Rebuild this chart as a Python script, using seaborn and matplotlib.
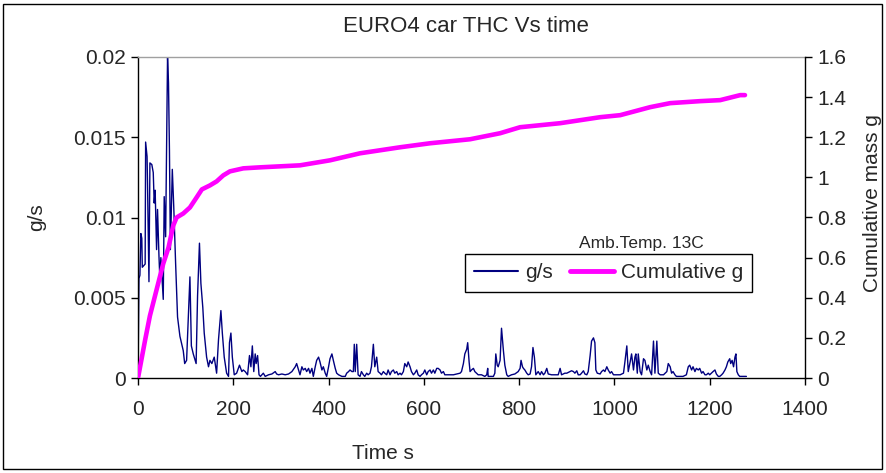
import matplotlib
matplotlib.use("Agg")
import matplotlib.pyplot as plt
import seaborn as sns
import pandas as pd
from matplotlib.ticker import FuncFormatter, MultipleLocator
from matplotlib.lines import Line2D
from matplotlib.patches import Rectangle

# ---------------- data ----------------
t_gs = [0, 2, 4, 6, 8, 9, 12, 15, 16, 19, 20, 23, 25, 29, 32, 34, 36, 39, 41, 44,
        46, 48, 51, 53, 55, 58, 62, 64, 66, 68, 72, 75, 79, 83, 88, 95, 98, 102, 105, 109,
        112, 116, 122, 125, 129, 132, 136, 139, 144, 148, 151, 155, 160, 165, 169, 174, 177, 181, 186, 190,
        192, 195, 198, 202, 207, 213, 218, 221,
        225, 230, 234, 237, 240, 243, 246, 248, 251, 254, 257, 263, 267, 274, 281, 288, 291, 295,
        302, 309, 316, 323, 330, 333, 337, 340, 344, 347, 351, 354, 358, 361, 365, 368, 372, 375,
        379, 382, 386, 389, 393, 396, 400, 403, 407, 410, 414, 417, 421, 428, 435, 438, 442, 445,
        449, 452, 454, 456, 459, 462, 466, 469, 473, 476, 480, 483, 487, 490, 494, 497,
        501, 504, 508, 511, 515, 518, 522, 525, 529, 532, 536, 539, 543, 546, 550, 553, 557, 560,
        564, 567, 571, 574, 578, 581, 585, 588, 592, 595, 599, 602, 606, 609, 613, 616, 620, 623,
        627, 630, 634, 637, 641, 644, 648, 655, 662, 669, 676, 679, 683, 686, 690, 692, 695, 697,
        700, 704, 707, 714, 721, 728, 732, 734, 735, 742, 746, 749, 751, 754, 756, 760, 763, 767,
        770, 774, 777, 784, 791, 798, 802, 804, 807, 809, 812, 816, 819, 823, 826, 829, 832, 835,
        840, 844, 847, 851, 854, 858, 861, 868, 875, 882, 886, 889, 896, 900, 907, 910, 914, 917,
        921, 924, 928, 931, 935, 938, 942, 945, 949, 952, 956, 959, 961, 964, 970, 973, 977, 980,
        984, 987, 991, 994, 998, 1005, 1012, 1019, 1022, 1026, 1029, 1033, 1036, 1040, 1043, 1045, 1048, 1050,
        1054, 1057, 1061, 1064, 1068, 1071, 1075, 1078, 1082, 1085, 1089, 1092, 1096, 1103, 1110, 1113, 1117, 1120,
        1123, 1127, 1130, 1137, 1144, 1151, 1155, 1158, 1162, 1165, 1169, 1172, 1176, 1179, 1183, 1186, 1190, 1193,
        1197, 1200, 1207, 1211, 1214, 1218, 1221, 1225, 1228, 1232, 1235, 1238, 1242, 1244, 1247, 1250, 1253, 1255,
        1257, 1260, 1263, 1270, 1277]

gs = [0.0, 0.0062, 0.0064, 0.0090, 0.0087, 0.0069, 0.0070, 0.0071, 0.0147, 0.0138, 0.0121, 0.0060, 0.0134, 0.0133, 0.0128, 0.0109, 0.0117, 0.0080, 0.0105, 0.0076,
      0.0061, 0.0075, 0.0059, 0.0049, 0.0113, 0.0088, 0.0200, 0.0184, 0.0142, 0.0080, 0.0130, 0.0107, 0.0071, 0.0038, 0.0026, 0.0017, 0.0009, 0.0011, 0.0033, 0.0063,
      0.0020, 0.0015, 0.0009, 0.0051, 0.0084, 0.0059, 0.0044, 0.0028, 0.0013, 0.0007, 0.0011, 0.0009, 0.0013, 0.0003, 0.0024, 0.0042, 0.0028, 0.0013, 0.0003, 0.0001,
      0.0022, 0.0028, 0.0013, 0.0002, 0.0003, 0.0008, 0.0004, 0.0005,
      0.0004, 0.0002, 0.0014, 0.0007, 0.0020, 0.0004, 0.0015, 0.0009, 0.0014, 0.0002, 0.0001, 0.0003, 0.0001, 0.0002, 0.00025, 0.0004, 0.00025, 0.0002,
      0.00025, 0.0002, 0.00025, 0.0004, 0.0007, 0.0009, 0.0005, 0.0002, 0.0007, 0.0005, 0.0006, 0.0004, 0.0006, 0.0003, 0.0006, 0.0001, 0.0007, 0.0011,
      0.0013, 0.0010, 0.0005, 0.0007, 0.0003, 0.0001, 0.0007, 0.0012, 0.0015, 0.0011, 0.0006, 0.0003, 0.0002, 0.0001, 0.0001, 0.0003, 0.0004, 0.0005,
      0.0004, 0.0004, 0.0021, 0.0004, 0.0021, 0.0002, 0.0001, 0.0004, 0.0002, 0.0001, 0.0003, 0.0002, 0.0003, 0.0007, 0.0021, 0.0007,
      0.0013, 0.0004, 0.0003, 0.0002, 0.0004, 0.0003, 0.0002, 0.0005, 0.0002, 0.0004, 0.0005, 0.0003, 0.0004, 0.0002, 0.0003, 0.0002, 0.0004, 0.0009,
      0.0007, 0.0010, 0.0007, 0.0004, 0.0002, 0.0003, 0.0005, 0.0002, 0.0001, 0.0002, 0.0003, 0.0005, 0.0002, 0.0004, 0.0005, 0.0003, 0.0005, 0.0003,
      0.0006, 0.0006, 0.0005, 0.0003, 0.0004, 0.0002, 0.0002, 0.0002, 0.0002, 0.00025, 0.0003, 0.0004, 0.0009, 0.0015, 0.0018, 0.0022, 0.0010, 0.0004,
      0.0005, 0.0006, 0.0004, 0.0002, 0.0002, 0.0001, 0.0002, 0.0006, 0.0001, 0.0001, 0.0001, 0.0003, 0.0015, 0.0008, 0.0007, 0.0011, 0.0031, 0.0017,
      0.0008, 0.0002, 0.0001, 0.0002, 0.00025, 0.0004, 0.0006, 0.0011, 0.0007, 0.0006, 0.0005, 0.0003, 0.0002, 0.00025, 0.0007, 0.0019, 0.0013, 0.0002,
      0.0004, 0.0002, 0.0004, 0.0002, 0.0003, 0.0006, 0.00025, 0.0002, 0.0002, 0.0002, 0.0006, 0.0002, 0.0003, 0.0003, 0.0004, 0.00045, 0.0004, 0.0003,
      0.00045, 0.0002, 0.0002, 0.0003, 0.00045, 0.00025, 0.0002, 0.0004, 0.0014, 0.0023, 0.0025, 0.0022, 0.0005, 0.0003, 0.00025, 0.0004, 0.0005, 0.0004,
      0.0007, 0.0005, 0.0003, 0.0004, 0.0002, 0.0002, 0.0002, 0.0003, 0.0010, 0.0020, 0.0004, 0.0010, 0.0015, 0.0005, 0.0013, 0.0015, 0.0003, 0.0015,
      0.0004, 0.0002, 0.0012, 0.0011, 0.0005, 0.0008, 0.0004, 0.0002, 0.0023, 0.0003, 0.0023, 0.0003, 0.0002, 0.0002, 0.0004, 0.0009, 0.0007, 0.0003,
      0.0004, 0.0002, 0.0001, 0.0001, 0.0001, 0.0002, 0.0007, 0.0008, 0.0005, 0.0007, 0.0004, 0.0006, 0.0005, 0.0006, 0.0003, 0.0004, 0.0002, 0.0002,
      0.0003, 0.0002, 0.0004, 0.0005, 0.00025, 0.0001, 0.0001, 0.0002, 0.0003, 0.0005, 0.0007, 0.0010, 0.0012, 0.0009, 0.0011, 0.0007, 0.0013, 0.0015,
      0.0004, 0.0002, 0.0001, 0.0001, 0.0001]

t_cum = [0, 15, 25, 39, 53, 64, 74, 81, 95, 109, 123, 134, 151, 165, 179, 193, 221,
         256, 340, 403, 466, 550, 613, 697, 760, 802, 886, 970, 1012, 1075, 1117, 1180, 1222, 1264, 1274]
cum = [0.0, 0.19, 0.31, 0.44, 0.57, 0.65, 0.76, 0.80, 0.82, 0.85, 0.90, 0.94, 0.96, 0.98, 1.01, 1.03, 1.045,
       1.05, 1.06, 1.085, 1.12, 1.15, 1.17, 1.19, 1.22, 1.25, 1.27, 1.30, 1.31, 1.35, 1.37, 1.38, 1.385, 1.41, 1.41]

title_text = "EURO4 car THC Vs time"
xlabel_text = "Time s"
ylabel_left = "g/s"
ylabel_right = "Cumulative mass g"
note_text = "Amb.Temp. 13C"
legend_labels = ["g/s", "Cumulative g"]

# ---------------- style ----------------
sns.set_style("white")
plt.rcParams['font.family'] = ['Liberation Sans', 'DejaVu Sans']

W, H = 886, 473
fig = plt.figure(figsize=(W / 100, H / 100), dpi=100)
L, R, T, B = 138, 805, 57, 378
ax = fig.add_axes([L / W, (H - B) / H, (R - L) / W, (B - T) / H])
ax2 = ax.twinx()

df_gs = pd.DataFrame({"t": t_gs, "v": gs})
df_cum = pd.DataFrame({"t": t_cum, "c": cum})

navy = "#000080"
pink = "#FF00FF"
sns.lineplot(data=df_gs, x="t", y="v", ax=ax, color=navy, linewidth=1.0, estimator=None)
sns.lineplot(data=df_cum, x="t", y="c", ax=ax2, color=pink, linewidth=3.3, estimator=None)

ax.set_xlim(0, 1400)
ax.set_ylim(0, 0.02)
ax2.set_ylim(0, 1.6)
ax.xaxis.set_major_locator(MultipleLocator(200))
ax.yaxis.set_major_locator(MultipleLocator(0.005))
ax2.yaxis.set_major_locator(MultipleLocator(0.2))
fmt = FuncFormatter(lambda v, p: "%g" % round(v, 6))
ax.yaxis.set_major_formatter(fmt)
ax2.yaxis.set_major_formatter(fmt)
ax.xaxis.set_major_formatter(fmt)

fs = 15
for a in (ax, ax2):
    a.tick_params(axis="both", which="major", direction="out", length=5, width=1,
                  color="black", labelsize=fs, pad=4)
ax.tick_params(axis="x", bottom=True, pad=11)
ax.tick_params(axis="y", left=True)
ax2.tick_params(axis="y", right=True)

for a in (ax, ax2):
    for s in a.spines.values():
        s.set_visible(False)
ax.spines["left"].set_visible(True)
ax.spines["bottom"].set_visible(True)
ax.spines["top"].set_visible(True)
ax.spines["left"].set_color("black")
ax.spines["bottom"].set_color("black")
ax.spines["top"].set_color("#a0a0a0")
ax2.spines["right"].set_visible(True)
ax2.spines["right"].set_color("black")
for s in ("left", "bottom", "top"):
    ax.spines[s].set_linewidth(1)
ax2.spines["right"].set_linewidth(1)

ax.set_xlabel("")
ax.set_ylabel("")
ax2.set_ylabel("")
fig.text(383 / W, 1 - 453 / H, xlabel_text, ha="center", va="center", fontsize=fs)
fig.text(37 / W, 1 - 217 / H, ylabel_left, ha="center", va="center", rotation=90, fontsize=fs)
fig.text(873 / W, 1 - 203 / H, ylabel_right, ha="center", va="center", rotation=90, fontsize=fs)
fig.text(466 / W, 1 - 27 / H, title_text, ha="center", va="center", fontsize=16)
fig.text(579 / W, 1 - 243 / H, note_text, ha="left", va="center", fontsize=12.5)

handles = [Line2D([], [], color=navy, linewidth=1.5),
           Line2D([], [], color=pink, linewidth=3.5)]
leg = fig.legend(handles, legend_labels, loc="upper left",
                 bbox_to_anchor=(465 / W, 1 - 254 / H), ncol=2, fontsize=fs,
                 frameon=True, fancybox=False, edgecolor="black", framealpha=1,
                 handlelength=2.1, handletextpad=0.35, columnspacing=0.8,
                 borderpad=0.45, borderaxespad=0)
leg.get_frame().set_linewidth(1)

fig.patches.append(Rectangle((3 / W, 4 / H), 879 / W, 465 / H, transform=fig.transFigure,
                             fill=False, edgecolor="black", linewidth=1))

fig.savefig("out.png", dpi=100)
